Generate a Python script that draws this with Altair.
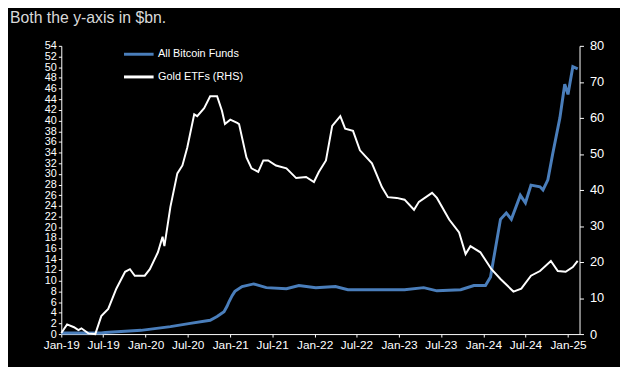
import altair as alt
import pandas as pd

# Gold ETFs (RHS, $bn)
gold_dates = ["2019-01-01","2019-01-26","2019-02-25","2019-03-16","2019-03-29","2019-04-28","2019-05-28",
              "2019-06-10","2019-06-23","2019-07-23","2019-08-27","2019-10-04","2019-10-25","2019-11-15",
              "2019-12-28","2020-01-19","2020-02-23","2020-03-14","2020-03-22","2020-04-17","2020-05-17",
              "2020-06-08","2020-06-29","2020-07-29","2020-08-11","2020-09-10","2020-10-06","2020-11-05",
              "2020-11-26","2020-12-09","2021-01-01","2021-01-31","2021-02-08","2021-03-12","2021-04-03",
              "2021-05-02","2021-05-24","2021-06-14","2021-07-18","2021-09-01","2021-10-13","2021-11-25",
              "2021-12-29","2022-01-19","2022-02-19","2022-03-18","2022-04-22","2022-05-13","2022-06-16",
              "2022-07-16","2022-09-06","2022-10-19","2022-11-14","2022-12-22","2023-01-25","2023-03-07",
              "2023-03-28","2023-05-24","2023-06-14","2023-08-06","2023-09-18","2023-10-16","2023-11-06",
              "2023-12-19","2024-02-05","2024-03-15","2024-05-10","2024-06-13","2024-07-25","2024-09-02",
              "2024-10-19","2024-11-18","2024-12-22","2025-01-22","2025-02-12"]
gold_values = [0.3, 2.7, 1.9, 1.1, 1.6, 0.2, 0.0,
               2.5, 5.0, 7.0, 12.6, 17.3, 18.0, 16.2,
               16.2, 18.0, 22.7, 27.0, 24.4, 35.3, 44.6,
               46.8, 51.8, 61.0, 60.5, 62.7, 66.0, 66.0,
               62.0, 58.3, 59.5, 58.6, 58.3, 49.0, 46.0,
               45.0, 48.2, 48.2, 46.8, 46.0, 43.3, 43.6,
               42.2, 45.0, 48.2, 57.8, 60.5, 57.0, 56.4,
               51.0, 47.4, 40.8, 38.0, 37.8, 37.3, 34.5,
               36.7, 39.2, 37.8, 31.8, 28.2, 22.2, 24.4,
               22.7, 18.0, 15.3, 11.8, 12.6, 16.2, 17.5,
               20.3, 17.5, 17.3, 18.6, 20.3]

# All Bitcoin Funds (LHS, $bn)
btc_dates = ["2019-01-01","2019-06-23","2019-07-10","2019-12-12","2020-04-17","2020-07-12","2020-10-06",
             "2020-11-05","2020-12-05","2020-12-18","2020-12-27","2021-01-09","2021-01-21","2021-02-21",
             "2021-04-12","2021-06-06","2021-09-01","2021-10-25","2022-01-06","2022-04-01","2022-05-25",
             "2023-01-25","2023-04-18","2023-06-14","2023-09-25","2023-11-21","2024-01-10","2024-02-01",
             "2024-02-14","2024-03-15","2024-04-09","2024-05-01","2024-06-09","2024-07-01","2024-07-25",
             "2024-09-02","2024-09-15","2024-10-06","2024-10-27","2024-11-27","2024-12-18","2025-01-01",
             "2025-01-22","2025-02-12"]
btc_values = [0.2, 0.2, 0.3, 0.7, 1.4, 2.0, 2.6,
              3.3, 4.2, 5.2, 6.1, 7.2, 8.0, 8.9,
              9.4, 8.7, 8.5, 9.1, 8.7, 8.9, 8.3,
              8.3, 8.7, 8.1, 8.3, 9.1, 9.1, 10.7,
              14.0, 21.5, 22.7, 21.5, 26.0, 24.6, 27.9,
              27.6, 27.0, 28.9, 33.8, 40.5, 46.8, 44.9,
              50.1, 49.7]

series_names = ["All Bitcoin Funds", "Gold ETFs (RHS)"]
series_colors = ["#4A7EBB", "#FFFFFF"]
x_ticks = ["2019-01-01","2019-07-01","2020-01-01","2020-07-01","2021-01-01","2021-07-01","2022-01-01",
           "2022-07-01","2023-01-01","2023-07-01","2024-01-01","2024-07-01","2025-01-01"]

btc_df = pd.DataFrame({"date": btc_dates, "value": btc_values, "series": series_names[0]})
gold_df = pd.DataFrame({"date": gold_dates, "value": gold_values, "series": series_names[1]})

FONT = "Liberation Sans Narrow, Liberation Sans, Arial"

x_enc = alt.X("date:T",
              scale=alt.Scale(domain=[alt.DateTime(year=2019, month=1, date=1),
                                      alt.DateTime(year=2025, month=2, date=20)]),
              axis=alt.Axis(title=None, format="%b-%y",
                            values=[alt.DateTime(year=int(d[:4]), month=int(d[5:7]), date=1) for d in x_ticks],
                            labelColor="white", labelFontSize=12, labelFont=FONT,
                            domainColor="white", tickColor="white", tickSize=3,
                            labelOverlap=False, labelFlush=False, grid=False, labelPadding=3))

color_enc = alt.Color("series:N",
                      scale=alt.Scale(domain=series_names, range=series_colors),
                      legend=alt.Legend(title=None, orient="none", legendX=62, legendY=-8,
                                        symbolType="stroke", symbolSize=900, symbolStrokeWidth=3,
                                        labelColor="white", labelFontSize=11, labelFont=FONT,
                                        rowPadding=-4, labelOffset=3))

btc = alt.Chart(btc_df).mark_line(strokeWidth=3).encode(
    x=x_enc,
    y=alt.Y("value:Q", scale=alt.Scale(domain=[0, 54], nice=False),
            axis=alt.Axis(title=None, orient="left", values=list(range(0, 55, 2)),
                          labelColor="white", labelFontSize=11, labelFont=FONT,
                          domainColor="white", tickColor="white", tickSize=3,
                          labelOverlap=False, grid=False, labelPadding=2)),
    color=color_enc,
)

gold = alt.Chart(gold_df).mark_line(strokeWidth=2).encode(
    x=x_enc,
    y=alt.Y("value:Q", scale=alt.Scale(domain=[0, 80], nice=False),
            axis=alt.Axis(title=None, orient="right", values=list(range(0, 81, 10)),
                          labelColor="white", labelFontSize=13, labelFont=FONT,
                          domainColor="white", tickColor="white", tickSize=4,
                          labelOverlap=False, grid=False, labelPadding=6)),
    color=color_enc,
)

chart = alt.layer(btc, gold).resolve_scale(y="independent").properties(
    width=525, height=292,
    background="black",
    autosize=alt.AutoSizeParams(type="none"),
    padding={"left": 54, "top": 36, "right": 41, "bottom": 31},
    title=alt.TitleParams("Both the y-axis in $bn.", anchor="start", frame="group",
                          color="#D9D9D9", fontSize=16, fontWeight="normal",
                          font="Liberation Sans", dx=-52, offset=12),
).configure_view(stroke=None)

chart.save("out.html", embed_options={"renderer": "svg", "actions": False})
